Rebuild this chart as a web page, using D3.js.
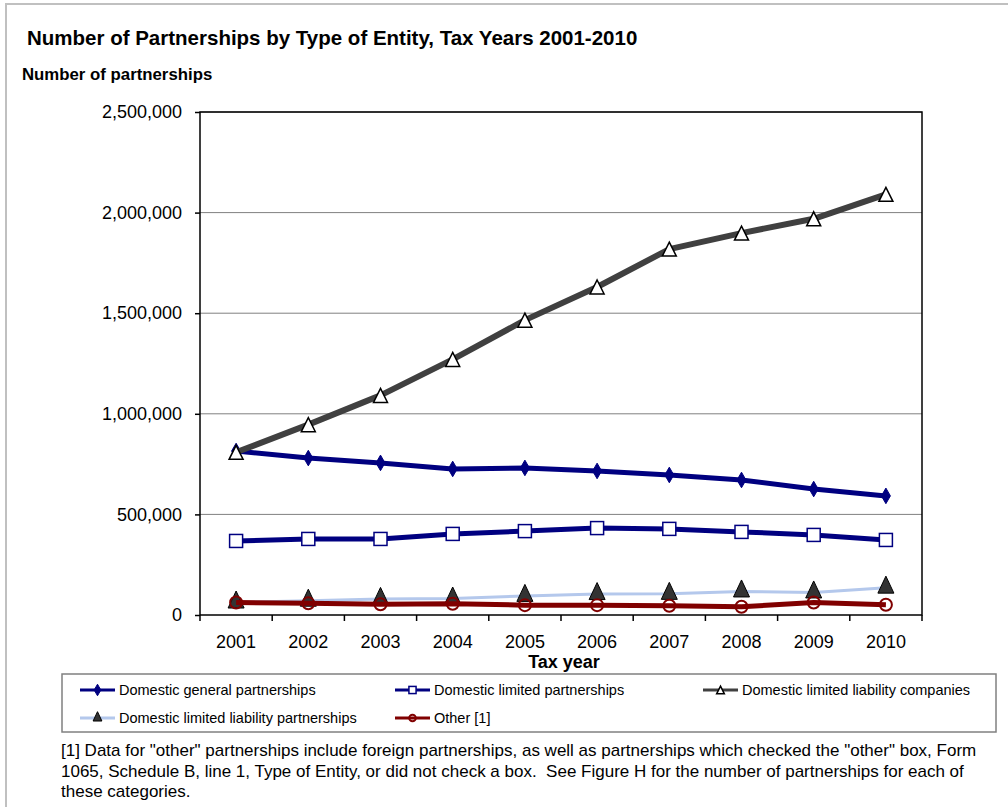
<!DOCTYPE html>
<html>
<head>
<meta charset="utf-8">
<script src="https://cdn.jsdelivr.net/npm/d3@7.9.0/dist/d3.min.js"></script>
<style>
  body { margin: 0; background: #fff; }
  svg { display: block; font-family: Arial, "Liberation Sans", sans-serif; }
</style>
</head>
<body>
<div id="chart"></div>
<script>
const years = ['2001', '2002', '2003', '2004', '2005', '2006', '2007', '2008', '2009', '2010'];
const generalPartnerships = [815000, 780000, 756000, 726000, 731000, 716000, 696000, 671000, 626000, 592000];
const limitedPartnerships = [368000, 378000, 378000, 403000, 417000, 432000, 428000, 413000, 398000, 373000];
const llCompanies = [808650, 946130, 1091519, 1270236, 1465495, 1630224, 1818530, 1898178, 1969180, 2090863];
const llPartnerships = [62000, 71000, 80000, 82000, 95000, 104000, 105000, 117000, 112000, 136000];
const otherPartnerships = [62000, 58000, 53000, 56000, 49000, 49000, 46000, 41000, 62000, 51000];
const yTicks = [0, 500000, 1000000, 1500000, 2000000, 2500000];

const series = [
  { name: 'Domestic general partnerships', values: generalPartnerships, color: '#000080', width: 5, marker: 'diamond' },
  { name: 'Domestic limited partnerships', values: limitedPartnerships, color: '#000080', width: 5, marker: 'square' },
  { name: 'Domestic limited liability companies', values: llCompanies, color: '#404040', width: 6, marker: 'openTriangle' },
  { name: 'Domestic limited liability partnerships', values: llPartnerships, color: '#b4c8ec', width: 3, marker: 'solidTriangle' },
  { name: 'Other [1]', values: otherPartnerships, color: '#800000', width: 5, marker: 'circle' }
];

const width = 1008, height = 807;
const plot = { left: 200, right: 922, top: 112, bottom: 615 };

const svg = d3.select('#chart').append('svg')
  .attr('width', width)
  .attr('height', height);

// outer frame
svg.append('rect')
  .attr('x', 6).attr('y', 4)
  .attr('width', width + 10).attr('height', height + 10)
  .attr('fill', 'none')
  .attr('stroke', '#c0c0c0')
  .attr('stroke-width', 2);

svg.append('text')
  .attr('x', 27).attr('y', 45)
  .attr('font-size', 20.5).attr('font-weight', 'bold')
  .text('Number of Partnerships by Type of Entity, Tax Years 2001-2010');

svg.append('text')
  .attr('x', 22).attr('y', 80)
  .attr('font-size', 16.8).attr('font-weight', 'bold')
  .text('Number of partnerships');

// scales
const x = d3.scaleBand().domain(years).range([plot.left, plot.right]);
const y = d3.scaleLinear().domain([0, 2500000]).range([plot.bottom, plot.top]);
const cx = d => x(d) + x.bandwidth() / 2;

// gridlines
svg.append('g')
  .selectAll('line')
  .data(yTicks.slice(1))
  .join('line')
    .attr('x1', plot.left).attr('x2', plot.right)
    .attr('y1', d => y(d)).attr('y2', d => y(d))
    .attr('stroke', '#808080')
    .attr('stroke-width', 1);

// plot border
svg.append('rect')
  .attr('x', plot.left).attr('y', plot.top)
  .attr('width', plot.right - plot.left)
  .attr('height', plot.bottom - plot.top)
  .attr('fill', 'none')
  .attr('stroke', '#000')
  .attr('stroke-width', 1.5);

// y axis
const yAxis = svg.append('g')
  .attr('transform', `translate(${plot.left},0)`)
  .call(d3.axisLeft(y).tickValues(yTicks).tickSize(5).tickPadding(13).tickFormat(d3.format(',')));
yAxis.select('.domain').remove();
yAxis.selectAll('text').attr('font-size', 18).attr('font-family', 'Arial, "Liberation Sans", sans-serif').attr('fill', '#000');
yAxis.selectAll('line').attr('stroke', '#000').attr('stroke-width', 1.5);

// x axis: ticks at band boundaries, labels in band centres
const xAxis = svg.append('g')
  .attr('transform', `translate(0,${plot.bottom})`)
  .call(d3.axisBottom(x).tickSize(0).tickPadding(20));
xAxis.select('.domain').remove();
xAxis.selectAll('text').attr('font-size', 18).attr('font-family', 'Arial, "Liberation Sans", sans-serif').attr('fill', '#000');
svg.append('g')
  .selectAll('line')
  .data(years.concat(['end']))
  .join('line')
    .attr('x1', (d, i) => i < years.length ? x(d) : plot.right)
    .attr('x2', (d, i) => i < years.length ? x(d) : plot.right)
    .attr('y1', plot.bottom).attr('y2', plot.bottom + 6)
    .attr('stroke', '#000').attr('stroke-width', 1.5);

svg.append('text')
  .attr('x', 564).attr('y', 668)
  .attr('text-anchor', 'middle')
  .attr('font-size', 18).attr('font-weight', 'bold')
  .text('Tax year');

// markers
function drawMarker(g, s, px, py, scale = 1) {
  if (s.marker === 'diamond') {
    g.append('path')
      .attr('d', d3.symbol(d3.symbolDiamond, 70 * scale)())
      .attr('transform', `translate(${px},${py})`)
      .attr('fill', s.color).attr('stroke', s.color);
  } else if (s.marker === 'square') {
    const r = 6.5 * scale;
    g.append('rect')
      .attr('x', px - r).attr('y', py - r)
      .attr('width', 2 * r).attr('height', 2 * r)
      .attr('fill', '#fff').attr('stroke', s.color).attr('stroke-width', 1.5);
  } else if (s.marker === 'openTriangle') {
    const h = 14 * scale, w = 7 * scale;
    g.append('path')
      .attr('d', `M${px},${py - h / 2}L${px + w},${py + h / 2}L${px - w},${py + h / 2}Z`)
      .attr('fill', '#fff').attr('stroke', '#000').attr('stroke-width', 1.5);
  } else if (s.marker === 'solidTriangle') {
    const h = 17 * scale, w = 8 * scale;
    g.append('path')
      .attr('d', `M${px},${py - h / 2 - 3 * scale}L${px + w},${py + h / 2 - 3 * scale}L${px - w},${py + h / 2 - 3 * scale}Z`)
      .attr('fill', '#333').attr('stroke', '#000').attr('stroke-width', 1);
  } else if (s.marker === 'circle') {
    g.append('circle')
      .attr('cx', px).attr('cy', py).attr('r', 6 * scale)
      .attr('fill', 'none').attr('stroke', s.color).attr('stroke-width', 2);
  }
}

const line = d3.line().x((d, i) => cx(years[i])).y(d => y(d));

series.forEach(s => {
  const g = svg.append('g');
  g.append('path')
    .datum(s.values)
    .attr('d', line)
    .attr('fill', 'none')
    .attr('stroke', s.color)
    .attr('stroke-width', s.width)
    .attr('stroke-linejoin', 'round');
  s.values.forEach((v, i) => drawMarker(g, s, cx(years[i]), y(v)));
});

// legend
const legend = svg.append('g');
legend.append('rect')
  .attr('x', 62).attr('y', 674)
  .attr('width', 934).attr('height', 58)
  .attr('fill', '#fff')
  .attr('stroke', '#808080')
  .attr('stroke-width', 1.5);

const legendPos = [
  { x: 80, y: 690 }, { x: 395, y: 690 }, { x: 703, y: 690 },
  { x: 80, y: 718 }, { x: 395, y: 718 }
];
series.forEach((s, i) => {
  const p = legendPos[i];
  const lg = legend.append('g');
  lg.append('line')
    .attr('x1', p.x).attr('x2', p.x + 35)
    .attr('y1', p.y).attr('y2', p.y)
    .attr('stroke', s.color)
    .attr('stroke-width', Math.min(s.width, 3));
  drawMarker(lg, s, p.x + 17.5, p.y, 0.55);
  lg.append('text')
    .attr('x', p.x + 39).attr('y', p.y + 5)
    .attr('font-size', 14.5)
    .text(s.name);
});

// footnote
const footnote = [
  '[1] Data for "other" partnerships include foreign partnerships, as well as partnerships which checked the "other" box, Form',
  '1065, Schedule B, line 1, Type of Entity, or did not check a box.  See Figure H for the number of partnerships for each of',
  'these categories.'
];
svg.append('text')
  .attr('font-size', 17)
  .selectAll('tspan')
  .data(footnote)
  .join('tspan')
    .attr('x', 61)
    .attr('y', (d, i) => 756 + i * 20.5)
    .attr('xml:space', 'preserve')
    .text(d => d);
</script>
</body>
</html>
